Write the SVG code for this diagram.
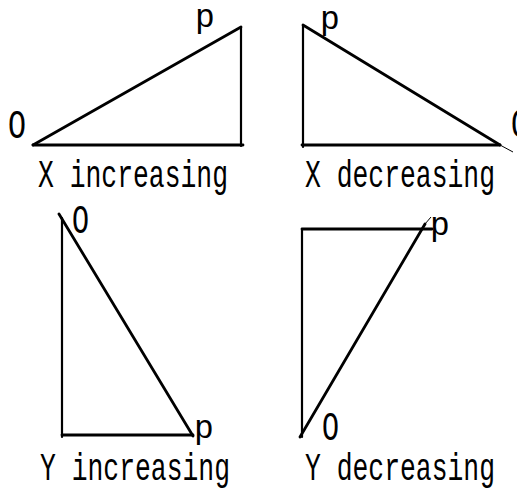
<svg xmlns="http://www.w3.org/2000/svg" width="517" height="492" viewBox="0 0 517 492">
<style>
.t{font-family:"Liberation Mono","DejaVu Sans Mono",monospace;font-size:39px;fill:#000}
.o{font-family:"Liberation Mono","DejaVu Sans Mono",monospace;font-size:40px;fill:#000}
.p{font-family:"Liberation Mono","DejaVu Sans Mono",monospace;font-size:33px;fill:#000;text-anchor:middle}
.l{stroke:#000;stroke-width:2.2;fill:none;stroke-linecap:round}
.h{stroke:#000;stroke-width:2.8;fill:none;stroke-linecap:round}
.f{stroke:#000;stroke-width:1;fill:none}
</style>
<rect width="517" height="492" fill="#fff"/>
<g id="x-increasing">
<line class="h" x1="33" y1="145" x2="241" y2="27"/>
<line class="l" x1="241" y1="27" x2="241" y2="146"/>
<line class="h" x1="33" y1="145" x2="243" y2="145"/>
<text class="o" x="8" y="138" textLength="18" lengthAdjust="spacingAndGlyphs">O</text>
<text class="p" x="205" y="27">p</text>
<text class="t" x="38" y="187" textLength="190" lengthAdjust="spacingAndGlyphs">X increasing</text>
</g>
<g id="x-decreasing">
<line class="h" x1="303" y1="25" x2="500" y2="145"/>
<line class="l" x1="303" y1="25" x2="303" y2="147"/>
<line class="h" x1="302" y1="145" x2="500" y2="145"/>
<line class="f" x1="500" y1="145" x2="513" y2="152"/>
<text class="p" x="330" y="29">p</text>
<text class="o" x="511" y="137" textLength="18" lengthAdjust="spacingAndGlyphs">O</text>
<text class="t" x="305" y="187" textLength="190" lengthAdjust="spacingAndGlyphs">X decreasing</text>
</g>
<g id="y-increasing">
<line class="h" x1="59" y1="214" x2="193" y2="436"/>
<line class="l" x1="62" y1="218" x2="62" y2="437"/>
<line class="h" x1="62" y1="435" x2="193" y2="435"/>
<text class="o" x="72" y="233" textLength="17" lengthAdjust="spacingAndGlyphs">O</text>
<text class="p" x="204" y="438">p</text>
<text class="t" x="40" y="480" textLength="190" lengthAdjust="spacingAndGlyphs">Y increasing</text>
</g>
<g id="y-decreasing">
<line class="l" x1="302" y1="229" x2="302" y2="437"/>
<line class="h" x1="302" y1="229" x2="432" y2="229"/>
<line class="h" x1="300" y1="437" x2="425" y2="224"/>
<line class="f" x1="425" y1="224" x2="431" y2="217"/>
<text class="o" x="322" y="440" textLength="17" lengthAdjust="spacingAndGlyphs">O</text>
<text class="p" x="440" y="235">p</text>
<text class="t" x="305" y="480" textLength="190" lengthAdjust="spacingAndGlyphs">Y decreasing</text>
</g>
</svg>
